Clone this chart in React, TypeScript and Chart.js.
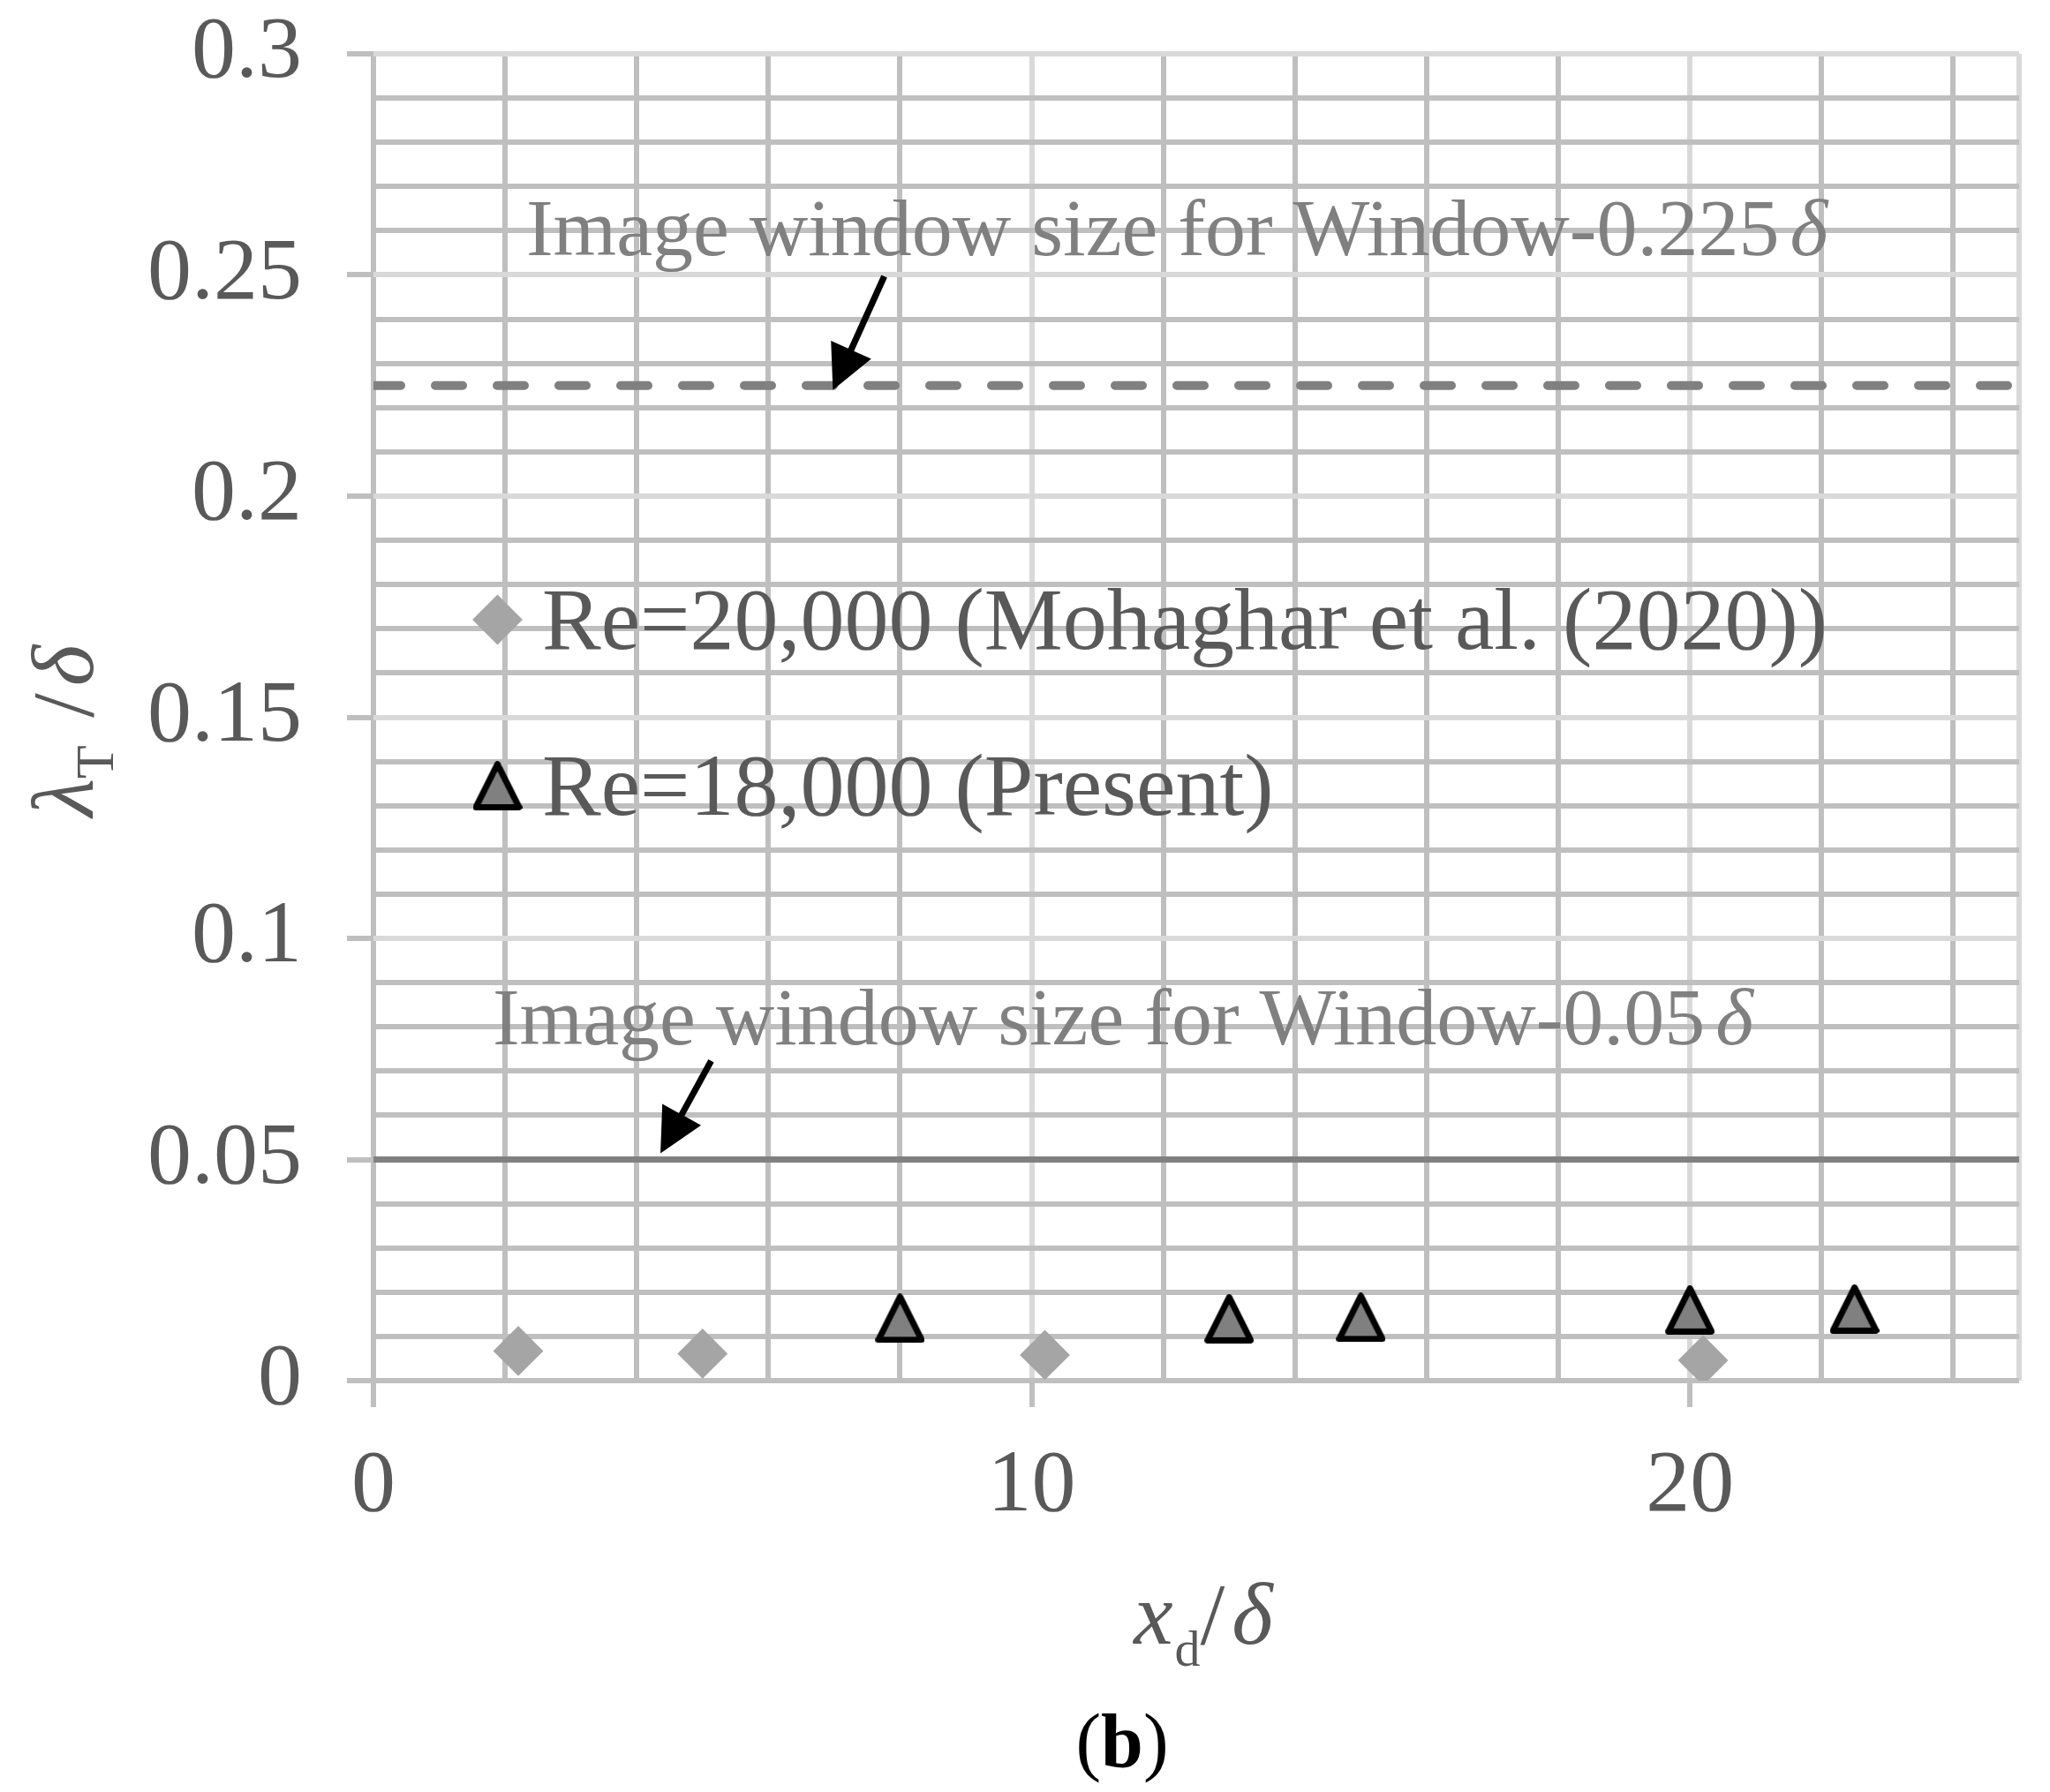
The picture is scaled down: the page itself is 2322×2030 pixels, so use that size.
import React, { useEffect, useRef } from 'react';
import { Chart, registerables } from 'chart.js';
import { drawPoint } from 'chart.js/helpers';

Chart.register(...registerables);

// ---------------- data ----------------
const mohagharX = [2.2, 5.0, 10.2, 20.2];
const mohagharY = [0.0067, 0.0061, 0.0058, 0.0046];

const presentX = [8, 13, 15, 20, 22.5];
const presentY = [0.0141, 0.014, 0.0143, 0.016, 0.0162];

const windowLineX = [0, 25];
const window0225Y = [0.225, 0.225];
const window005Y = [0.05, 0.05];

const seriesNames = ['Re=20,000 (Mohaghar et al. (2020))', 'Re=18,000 (Present)'];

const xLabelValues = [0, 10, 20];
const xLabelTexts = ['0', '10', '20'];
const yLabelValues = [0, 0.05, 0.1, 0.15, 0.2, 0.25, 0.3];
const yLabelTexts = ['0', '0.05', '0.1', '0.15', '0.2', '0.25', '0.3'];

const annotationTexts = ['Image window size for Window-0.225', 'Image window size for Window-0.05'];
// annotation anchors in data units [x, y]
const annotationAnchors = [
  [2.32, 0.2545],
  [1.81, 0.076],
];
// arrows in data units [tailX, tailY, tipX, tipY]
const arrows = [
  [7.76, 0.2497, 6.98, 0.224],
  [5.13, 0.0723, 4.36, 0.0514],
];

const X_MIN = 0;
const X_MAX = 25;
const Y_MIN = 0;
const Y_MAX = 0.3;
const X_MINOR = 2;
const Y_MINOR = 0.01;

const SERIF = "'Liberation Serif', 'Times New Roman', Times, serif";
const LABEL_COLOR = '#595959';
const NOTE_COLOR = '#808080';
const MINOR_GRID = '#bfbfbf';
const MAJOR_GRID = '#d9d9d9';

const near = (a: number, b: number) => Math.abs(a - b) < 1e-9;

function makeTriangle(): HTMLCanvasElement {
  const c = document.createElement('canvas');
  c.width = 56;
  c.height = 56;
  const g = c.getContext('2d')!;
  g.beginPath();
  g.moveTo(28, 3.6);
  g.lineTo(52.4, 52.4);
  g.lineTo(3.6, 52.4);
  g.closePath();
  g.fillStyle = '#808080';
  g.fill();
  g.lineWidth = 7;
  g.lineJoin = 'round';
  g.strokeStyle = '#000000';
  g.stroke();
  return c;
}

type Seg = { text: string; font: string; dy?: number; gap?: number };

function drawSegs(ctx: CanvasRenderingContext2D, segs: Seg[], x: number, y: number, align: 'left' | 'center') {
  const widths = segs.map((s) => {
    ctx.font = s.font;
    return ctx.measureText(s.text).width + (s.gap || 0);
  });
  const total = widths.reduce((a, b) => a + b, 0);
  let cx = align === 'center' ? x - total / 2 : x;
  ctx.textAlign = 'left';
  ctx.textBaseline = 'alphabetic';
  segs.forEach((s, i) => {
    ctx.font = s.font;
    ctx.fillText(s.text, cx, y + (s.dy || 0));
    cx += widths[i];
  });
}

function drawArrow(ctx: CanvasRenderingContext2D, x0: number, y0: number, x1: number, y1: number) {
  const dx = x1 - x0;
  const dy = y1 - y0;
  const len = Math.hypot(dx, dy);
  const ux = dx / len;
  const uy = dy / len;
  const px = -uy;
  const py = ux;
  const headLen = 50;
  const headHalf = 25;
  const shaftHalf = 3.6;
  const bx = x1 - ux * headLen;
  const by = y1 - uy * headLen;
  ctx.save();
  ctx.fillStyle = '#000000';
  ctx.beginPath();
  ctx.moveTo(x0 + px * shaftHalf, y0 + py * shaftHalf);
  ctx.lineTo(bx + px * shaftHalf, by + py * shaftHalf);
  ctx.lineTo(bx + px * headHalf, by + py * headHalf);
  ctx.lineTo(x1, y1);
  ctx.lineTo(bx - px * headHalf, by - py * headHalf);
  ctx.lineTo(bx - px * shaftHalf, by - py * shaftHalf);
  ctx.lineTo(x0 - px * shaftHalf, y0 - py * shaftHalf);
  ctx.closePath();
  ctx.fill();
  ctx.restore();
}

export default function App() {
  const ref = useRef<HTMLCanvasElement | null>(null);

  useEffect(() => {
    if (!ref.current) return;
    const tri = makeTriangle();

    const xGrid: number[] = [];
    for (let v = X_MIN; v <= X_MAX + 1e-9; v += X_MINOR) xGrid.push(v);
    if (!near(xGrid[xGrid.length - 1], X_MAX)) xGrid.push(X_MAX);
    const yGrid: number[] = [];
    const nY = Math.round((Y_MAX - Y_MIN) / Y_MINOR);
    for (let i = 0; i <= nY; i++) yGrid.push(Math.round((Y_MIN + i * Y_MINOR) * 1000) / 1000);

    const overlay = {
      id: 'overlay',
      afterDatasetsDraw(chart: any) {
        const ctx: CanvasRenderingContext2D = chart.ctx;
        const xs = chart.scales.x;
        const ys = chart.scales.y;
        const area = chart.chartArea;

        // annotation texts
        ctx.save();
        ctx.fillStyle = NOTE_COLOR;
        annotationTexts.forEach((t, i) => {
          const px = xs.getPixelForValue(annotationAnchors[i][0]);
          const py = ys.getPixelForValue(annotationAnchors[i][1]);
          drawSegs(
            ctx,
            [
              { text: t, font: `92px ${SERIF}`, gap: 12 },
              { text: 'δ', font: `italic 92px ${SERIF}` },
            ],
            px,
            py,
            'left'
          );
        });
        ctx.restore();

        // arrows
        arrows.forEach((a) => {
          drawArrow(
            ctx,
            xs.getPixelForValue(a[0]),
            ys.getPixelForValue(a[1]),
            xs.getPixelForValue(a[2]),
            ys.getPixelForValue(a[3])
          );
        });

        // legend
        const mx = area.left + 140.5;
        const rows = [area.top + 641, area.top + 829];
        const dsIdx = [1, 0];
        dsIdx.forEach((di, i) => {
          const ds: any = chart.data.datasets[di];
          ctx.save();
          ctx.fillStyle = ds.backgroundColor;
          ctx.strokeStyle = ds.borderColor;
          ctx.lineWidth = ds.borderWidth || 0;
          drawPoint(
            ctx,
            {
              pointStyle: ds.pointStyle,
              radius: ds.pointRadius,
              rotation: 0,
              borderWidth: ds.borderWidth,
            } as any,
            mx,
            rows[i]
          );
          ctx.restore();
        });
        ctx.save();
        ctx.fillStyle = LABEL_COLOR;
        ctx.font = `100px ${SERIF}`;
        ctx.textAlign = 'left';
        ctx.textBaseline = 'alphabetic';
        seriesNames.forEach((n, i) => {
          ctx.fillText(n, area.left + 191, rows[i] + 33);
        });
        ctx.restore();
      },
      afterDraw(chart: any) {
        const ctx: CanvasRenderingContext2D = chart.ctx;
        const area = chart.chartArea;
        ctx.save();
        ctx.fillStyle = LABEL_COLOR;
        // y title
        ctx.save();
        ctx.translate(105, 828);
        ctx.rotate(-Math.PI / 2);
        drawSegs(
          ctx,
          [
            { text: 'λ', font: `italic 100px ${SERIF}` },
            { text: 'T', font: `62px ${SERIF}`, dy: 23, gap: 6 },
            { text: ' /', font: `100px ${SERIF}`, gap: 8 },
            { text: 'δ', font: `italic 100px ${SERIF}` },
          ],
          0,
          0,
          'center'
        );
        ctx.restore();
        // x title
        drawSegs(
          ctx,
          [
            { text: 'x', font: `italic 100px ${SERIF}`, gap: 2 },
            { text: 'd', font: `58px ${SERIF}`, dy: 25 },
            { text: '/', font: `100px ${SERIF}`, gap: 8 },
            { text: 'δ', font: `italic 100px ${SERIF}` },
          ],
          (area.left + area.right) / 2 + 8,
          1862,
          'center'
        );
        // panel label
        ctx.fillStyle = '#000000';
        drawSegs(
          ctx,
          [
            { text: '(', font: `86px ${SERIF}` },
            { text: 'b', font: `bold 86px ${SERIF}` },
            { text: ')', font: `86px ${SERIF}` },
          ],
          1271,
          2001,
          'center'
        );
        ctx.restore();
      },
    };

    const chart = new Chart(ref.current, {
      type: 'scatter',
      data: {
        datasets: [
          {
            label: seriesNames[1],
            data: presentX.map((x, i) => ({ x, y: presentY[i] })),
            pointStyle: tri as any,
            pointRadius: 28,
            borderWidth: 0,
            backgroundColor: '#808080',
            borderColor: '#000000',
            order: 0,
          },
          {
            label: seriesNames[0],
            data: mohagharX.map((x, i) => ({ x, y: mohagharY[i] })),
            pointStyle: 'rectRot',
            pointRadius: 27,
            borderWidth: 2,
            backgroundColor: '#a5a5a5',
            borderColor: '#a5a5a5',
            order: 1,
          },
          {
            label: 'Window-0.225δ',
            data: windowLineX.map((x, i) => ({ x, y: window0225Y[i] })),
            showLine: true,
            pointRadius: 0,
            borderColor: '#808080',
            borderWidth: 10,
            borderDash: [31, 39],
            borderCapStyle: 'round',
            order: 2,
          } as any,
          {
            label: 'Window-0.05δ',
            data: windowLineX.map((x, i) => ({ x, y: window005Y[i] })),
            showLine: true,
            pointRadius: 0,
            borderColor: '#808080',
            borderWidth: 7,
            order: 3,
          },
        ],
      },
      options: {
        animation: false,
        responsive: false,
        devicePixelRatio: 1,
        layout: { padding: { top: 61, right: 35, left: 0, bottom: 0 } },
        plugins: {
          legend: { display: false },
          tooltip: { enabled: false },
        },
        scales: {
          x: {
            type: 'linear',
            min: X_MIN,
            max: X_MAX,
            afterBuildTicks: (s: any) => {
              s.ticks = xGrid.map((v) => ({ value: v }));
            },
            afterFit: (s: any) => {
              s.height = 466;
              s.paddingLeft = 0;
              s.paddingRight = 0;
            },
            border: { display: false },
            grid: {
              lineWidth: 6,
              tickLength: 30,
              tickWidth: 6,
              color: (c: any) => {
                const v = c.tick ? c.tick.value : 0;
                if (near(v, X_MIN)) return MINOR_GRID;
                if (near(v, X_MAX) || xLabelValues.some((l) => near(l, v))) return MAJOR_GRID;
                return MINOR_GRID;
              },
              tickColor: (c: any) => {
                const v = c.tick ? c.tick.value : -1;
                return xLabelValues.some((l) => near(l, v)) ? MINOR_GRID : 'rgba(0,0,0,0)';
              },
            },
            ticks: {
              autoSkip: false,
              maxRotation: 0,
              minRotation: 0,
              padding: 31,
              color: LABEL_COLOR,
              font: { family: SERIF, size: 100 },
              callback: (v: any) => {
                const i = xLabelValues.findIndex((l) => near(l, Number(v)));
                return i >= 0 ? xLabelTexts[i] : '';
              },
            },
          },
          y: {
            type: 'linear',
            min: Y_MIN,
            max: Y_MAX,
            afterBuildTicks: (s: any) => {
              s.ticks = yGrid.map((v) => ({ value: v }));
            },
            afterFit: (s: any) => {
              s.width = 423;
              s.paddingTop = 0;
              s.paddingBottom = 0;
            },
            border: { display: false },
            grid: {
              lineWidth: 6,
              tickLength: 30,
              tickWidth: 6,
              color: (c: any) => {
                const v = c.tick ? c.tick.value : 0;
                if (near(v, Y_MIN)) return MINOR_GRID;
                if (yLabelValues.some((l) => near(l, v))) return MAJOR_GRID;
                return MINOR_GRID;
              },
              tickColor: (c: any) => {
                const v = c.tick ? c.tick.value : -1;
                return yLabelValues.some((l) => near(l, v)) ? MINOR_GRID : 'rgba(0,0,0,0)';
              },
            },
            ticks: {
              autoSkip: false,
              padding: 51,
              color: LABEL_COLOR,
              font: { family: SERIF, size: 100 },
              callback: (v: any) => {
                const i = yLabelValues.findIndex((l) => near(l, Number(v)));
                return i >= 0 ? yLabelTexts[i] : '';
              },
            },
          },
        },
      } as any,
      plugins: [overlay],
    });

    return () => chart.destroy();
  }, []);

  return (
    <div style={{ position: 'absolute', left: 0, top: 0, width: 2322, height: 2030 }}>
      <canvas ref={ref} width={2322} height={2030} style={{ display: 'block', width: 2322, height: 2030 }} />
    </div>
  );
}
